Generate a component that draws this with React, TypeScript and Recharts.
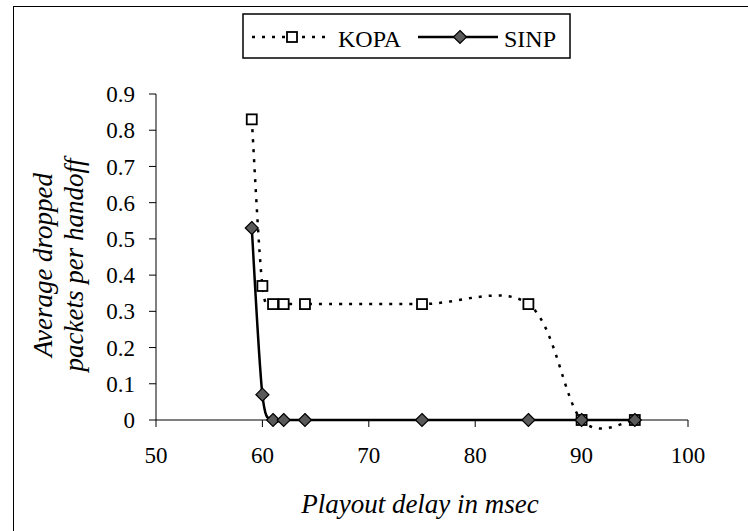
import React from "react";
import { Label, Line, LineChart, XAxis, YAxis } from "recharts";

const delays = [59, 60, 61, 62, 64, 75, 85, 90, 95];
const kopa = [0.83, 0.37, 0.32, 0.32, 0.32, 0.32, 0.32, 0, 0];
const sinp = [0.53, 0.07, 0, 0, 0, 0, 0, 0, 0];

const xTicks = [50, 60, 70, 80, 90, 100];
const yTicks = [0, 0.1, 0.2, 0.3, 0.4, 0.5, 0.6, 0.7, 0.8, 0.9];

const rows = delays.map((x, i) => ({ x, KOPA: kopa[i], SINP: sinp[i] }));

// excel style smoothing (catmull-rom, 1/6 control points)
function excelSmooth(context: any) {
  let pts: number[][] = [];
  return {
    areaStart() {},
    areaEnd() {},
    lineStart() {
      pts = [];
    },
    point(x: number, y: number) {
      pts.push([+x, +y]);
    },
    lineEnd() {
      if (!pts.length) return;
      context.moveTo(pts[0][0], pts[0][1]);
      for (let i = 0; i < pts.length - 1; i++) {
        const p0 = pts[i - 1] ?? pts[i];
        const p1 = pts[i];
        const p2 = pts[i + 1];
        const p3 = pts[i + 2] ?? p2;
        context.bezierCurveTo(
          p1[0] + (p2[0] - p0[0]) / 6,
          p1[1] + (p2[1] - p0[1]) / 6,
          p2[0] - (p3[0] - p1[0]) / 6,
          p2[1] - (p3[1] - p1[1]) / 6,
          p2[0],
          p2[1],
        );
      }
    },
  };
}

const squareDot = (p: any) => (
  <rect key={`k-${p.index}`} x={p.cx - 5} y={p.cy - 5} width={10} height={10} fill="#fff" stroke="#000" strokeWidth={1.8} />
);

const diamondDot = (p: any) => (
  <polygon
    key={`s-${p.index}`}
    points={`${p.cx},${p.cy - 6.5} ${p.cx + 6.5},${p.cy} ${p.cx},${p.cy + 6.5} ${p.cx - 6.5},${p.cy}`}
    fill="#5a5a5a"
    stroke="#000"
    strokeWidth={1.2}
  />
);

const yTitle = (props: any) => {
  const vb = props.viewBox ?? { y: 94, height: 326 };
  const cy = vb.y + vb.height / 2 + 8;
  return (
    <text transform={`translate(52, ${cy}) rotate(-90)`} textAnchor="middle" fontStyle="italic" fontSize={27}>
      <tspan x={0} y={0}>Average dropped</tspan>
      <tspan x={0} y={31}>packets per handoff</tspan>
    </text>
  );
};

const xTitle = (props: any) => {
  const vb = props.viewBox ?? { x: 156, width: 532 };
  return (
    <text x={vb.x + vb.width / 2 - 2} y={513} textAnchor="middle" fontStyle="italic" fontSize={27}>
      Playout delay in msec
    </text>
  );
};

function LegendBox() {
  return (
    <svg width={329} height={46} style={{ position: "absolute", left: 242, top: 13 }}>
      <rect x={1} y={1} width={327} height={44} fill="#fff" stroke="#000" strokeWidth={1.5} />
      <line x1={10} y1={24} x2={86} y2={24} stroke="#000" strokeWidth={2.5} strokeDasharray="3 7" />
      <rect x={45} y={19} width={10} height={10} fill="#fff" stroke="#000" strokeWidth={1.8} />
      <text x={96} y={34} fontSize={24}>KOPA</text>
      <line x1={176} y1={24} x2={256} y2={24} stroke="#000" strokeWidth={2.5} />
      <polygon points="218,17.5 224.5,24 218,30.5 211.5,24" fill="#5a5a5a" stroke="#000" strokeWidth={1.2} />
      <text x={262} y={34} fontSize={24}>SINP</text>
    </svg>
  );
}

export default function App() {
  return (
    <div style={{ position: "absolute", left: 0, top: 0, width: 748, height: 531, overflow: "hidden", background: "#fff" }}>
      <LineChart width={748} height={531} data={rows} margin={{ top: 94, right: 60, bottom: 81, left: 96 }}>
        <XAxis
          type="number"
          dataKey="x"
          domain={[50, 100]}
          ticks={xTicks}
          interval={0}
          height={30}
          tickSize={7}
          tickMargin={20}
          stroke="#000"
          tick={{ fill: "#000", fontSize: 23 }}
        >
          <Label content={xTitle} />
        </XAxis>
        <YAxis
          type="number"
          domain={[0, 0.9]}
          ticks={yTicks}
          interval={0}
          width={60}
          tickSize={7}
          tickMargin={14}
          stroke="#000"
          tick={{ fill: "#000", fontSize: 23 }}
        >
          <Label content={yTitle} />
        </YAxis>
        <Line
          dataKey="KOPA"
          type={excelSmooth as any}
          stroke="#000"
          strokeWidth={2.5}
          strokeDasharray="3 7"
          dot={squareDot}
          activeDot={false}
          isAnimationActive={false}
        />
        <Line
          dataKey="SINP"
          type={excelSmooth as any}
          stroke="#000"
          strokeWidth={2.5}
          dot={diamondDot}
          activeDot={false}
          isAnimationActive={false}
        />
      </LineChart>
      <div style={{ position: "absolute", left: 13, top: 6, width: 800, height: 600, border: "1.5px solid #000", pointerEvents: "none" }} />
      <LegendBox />
    </div>
  );
}
